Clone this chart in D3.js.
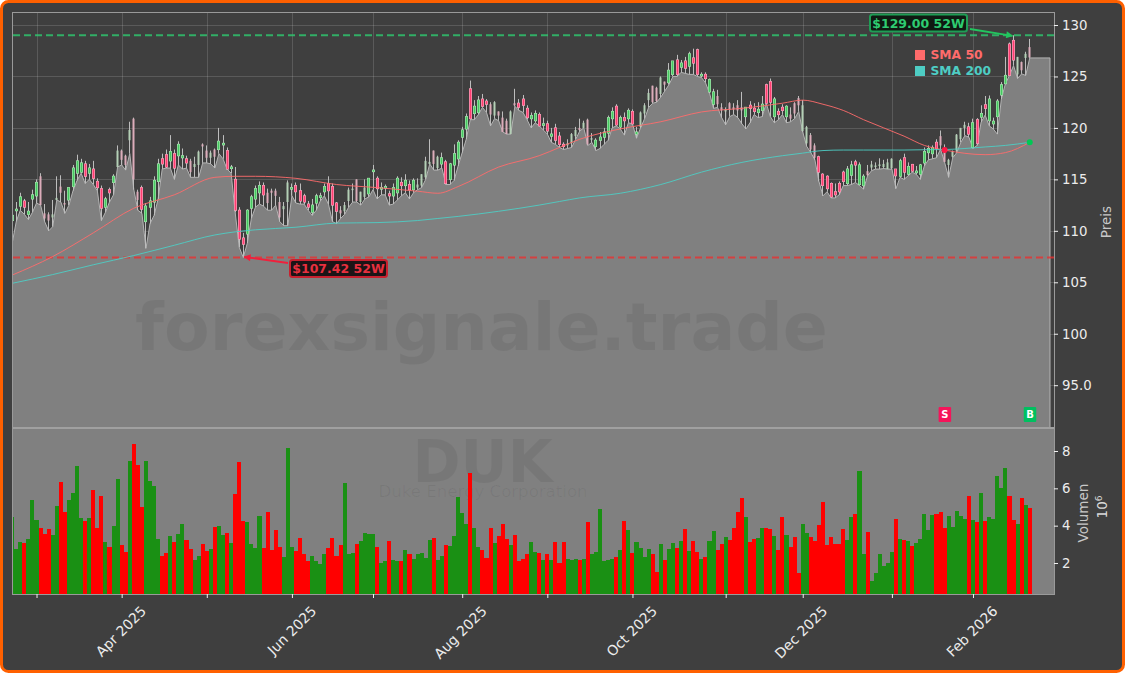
<!DOCTYPE html>
<html><head><meta charset="utf-8">
<script src="https://cdn.jsdelivr.net/npm/d3@7/dist/d3.min.js"></script>
<style>html,body{margin:0;padding:0;background:#fff;overflow:hidden}text{font-family:"DejaVu Sans",sans-serif}</style>
</head><body><svg id="c" width="1125" height="673"></svg>
<script>
const bodyTop=[111.5,112.1,113.3,112.9,111.9,113.5,114.7,115.3,111.7,111.6,111.6,113.2,114.3,112.7,114.2,116.1,116.8,116.6,116.5,116.1,116.0,114.8,114.1,113.1,114.0,115.3,117.8,117.8,117.3,119.8,120.9,113.8,114.2,112.4,112.9,114.9,116.5,117.0,117.4,117.7,117.5,118.4,117.3,117.0,116.8,116.5,117.7,118.4,117.8,117.6,117.9,118.7,118.5,117.8,116.2,115.0,112.0,109.3,112.0,113.3,114.1,114.4,114.4,113.7,113.9,113.9,
112.8,112.4,114.7,114.2,114.4,113.9,113.4,112.6,112.5,113.4,113.4,114.3,114.6,114.3,112.7,112.0,112.5,114.0,114.1,115.0,113.8,114.2,115.1,115.9,115.1,114.2,114.3,113.6,114.2,115.1,114.7,114.9,114.5,114.9,114.5,115.5,116.8,116.7,117.8,117.2,117.1,116.7,116.5,117.5,118.6,119.8,121.1,123.8,122.1,122.7,122.8,122.6,122.3,122.5,121.6,121.0,120.7,121.6,122.4,122.4,122.8,121.9,121.2,121.4,121.3,120.4,120.4,119.4,120.0,119.2,
118.4,118.5,119.4,119.8,120.0,120.5,120.8,119.0,118.8,119.1,119.6,121.0,121.6,122.1,121.0,121.0,121.7,121.6,119.6,121.5,122.2,123.4,124.1,123.9,124.9,124.5,125.6,126.5,126.6,126.3,126.5,127.2,126.8,127.6,125.2,125.2,124.7,123.5,123.1,122.0,121.8,122.4,122.0,122.2,122.0,122.0,122.2,121.9,121.8,122.3,124.2,124.5,122.8,121.6,122.0,122.1,121.3,122.4,122.9,122.2,120.1,119.3,118.3,117.2,115.5,115.3,114.6,113.8,114.6,
115.7,116.0,116.4,116.7,116.4,115.3,115.8,116.45,116.35,116.45,116.5,116.65,117.0,116.0,116.8,117.1,116.25,116.45,115.8,116.4,117.7,118.0,118.1,118.6,119.2,118.0,116.9,117.7,119.35,120.0,120.3,120.1,120.5,120.8,121.4,122.25,122.8,120.65,122.6,124.2,125.1,128.15,128.5,126.9,126.4,127.2,127.85];
const bodyBottom=[111.0,112.0,112.4,112.3,111.6,113.1,113.4,112.5,111.2,111.0,111.3,113.0,113.7,112.6,113.0,114.3,115.6,115.7,115.3,115.6,115.1,114.2,112.2,112.3,113.7,114.7,116.2,116.9,116.4,118.8,115.0,113.0,112.1,110.9,112.3,112.8,114.8,116.5,116.2,116.8,116.1,117.3,117.1,116.6,115.7,116.2,116.4,118.2,117.1,117.1,117.2,117.9,118.4,116.0,116.1,112.0,109.2,108.7,109.7,112.2,113.1,113.7,113.5,112.7,113.7,113.4,
111.3,112.1,112.8,114.1,113.8,112.9,112.8,112.3,111.8,112.7,113.3,113.8,113.9,112.5,111.9,111.7,111.9,112.9,114.0,112.9,112.8,113.3,113.6,115.8,114.1,114.1,114.2,113.4,113.4,113.7,114.4,114.4,114.0,114.0,114.2,114.4,115.2,116.5,116.5,116.1,116.5,114.6,115.0,116.4,117.0,119.1,119.9,120.9,121.4,121.5,122.1,122.3,121.3,121.2,121.2,119.6,119.4,119.4,122.2,122.0,122.2,121.0,120.9,120.7,120.2,120.3,119.7,119.2,118.8,118.4,
118.2,118.3,118.5,119.2,119.8,120.0,118.4,118.9,118.2,118.8,119.1,119.5,120.9,120.3,120.1,120.7,120.9,120.4,119.4,120.1,121.4,122.7,122.5,122.6,123.3,124.2,124.4,125.2,125.2,125.9,125.8,126.0,126.3,125.2,125.1,124.8,123.5,122.3,122.3,121.7,121.6,121.8,121.8,121.7,121.7,121.1,121.9,121.6,121.5,121.7,122.4,122.5,121.1,121.3,121.7,121.1,120.9,121.4,122.2,119.7,118.5,117.9,117.1,115.7,114.4,114.1,113.3,113.5,113.8,
114.8,114.6,115.4,116.4,114.5,114.4,115.4,116.15,116.25,116.3,116.2,116.0,116.1,115.35,115.3,115.7,115.5,115.8,115.75,115.5,116.6,117.6,117.5,118.0,118.3,116.7,116.4,117.2,117.8,118.9,120.0,119.4,118.1,118.5,121.05,121.9,120.7,120.4,121.1,123.2,124.3,125.1,126.6,125.2,125.6,126.8,126.85];
const highs=[111.7,112.8,113.7,113.1,112.8,114.0,115.0,115.6,112.6,111.8,113.0,115.3,115.4,113.9,114.2,116.4,117.4,117.0,116.8,116.5,116.8,115.1,114.4,113.3,114.2,115.5,118.3,117.9,117.4,120.6,121.0,114.0,114.4,112.7,113.3,115.3,117.0,117.5,117.9,119.3,117.9,118.7,118.0,117.3,117.0,117.2,117.8,118.5,118.3,117.8,118.0,120.0,119.3,118.1,116.4,116.2,112.3,109.8,112.1,113.5,114.4,114.8,114.7,114.1,114.1,114.1,
113.3,112.8,114.9,114.6,114.7,114.6,113.6,112.9,113.1,113.6,113.7,114.6,115.3,114.6,112.8,112.4,112.8,114.2,114.6,115.0,113.8,115.0,115.1,116.4,115.3,114.7,114.5,113.9,114.6,115.3,115.2,115.5,114.9,115.1,115.1,115.5,117.2,118.9,117.8,117.3,117.6,116.9,116.6,118.4,118.8,120.1,121.4,124.6,122.7,123.1,123.3,122.8,122.5,122.6,121.6,121.6,120.9,121.7,123.8,122.8,123.2,122.2,121.5,121.7,121.5,121.0,120.7,120.0,120.4,119.6,
118.6,118.9,119.5,120.1,120.9,120.7,120.9,119.5,119.0,119.6,120.0,121.2,122.0,122.3,121.2,121.5,121.9,121.8,120.1,121.6,122.4,123.8,124.1,124.0,125.0,124.5,126.3,126.5,127.1,126.6,126.9,127.4,127.7,127.7,125.4,125.4,124.8,123.8,123.7,122.4,122.0,122.5,122.4,122.7,123.5,122.0,122.6,122.4,122.5,123.1,124.3,124.8,123.0,121.9,122.3,122.2,122.0,122.5,123.1,122.7,120.2,119.5,118.5,117.3,115.6,115.4,114.7,114.6,114.8,
115.85,116.3,116.8,116.9,116.65,115.5,116.4,116.8,116.65,117.05,116.9,117.0,117.05,116.0,117.0,117.5,116.65,116.5,116.3,116.5,118.1,118.3,118.3,118.9,119.75,118.4,117.0,117.8,119.4,120.0,120.6,120.5,120.9,120.95,122.2,123.1,123.15,121.0,122.8,124.45,126.9,128.3,129.0,126.9,126.45,127.4,128.65];
const lows=[108.8,110.9,112.0,111.6,111.1,111.8,112.7,112.5,110.9,110.0,110.4,113.0,112.8,111.7,112.5,113.9,114.9,115.6,114.6,115.0,114.5,113.9,111.0,111.8,112.8,113.5,116.2,116.4,115.9,117.5,114.0,112.0,111.7,108.3,110.7,111.5,113.1,116.0,116.1,116.1,115.0,116.4,116.0,116.1,115.2,115.2,115.2,116.6,116.6,116.5,116.1,117.5,117.0,116.0,115.6,111.8,108.4,107.42,108.8,111.2,112.3,112.6,112.4,112.0,112.0,112.5,
110.9,110.5,110.5,113.4,112.7,112.6,112.6,112.0,111.5,112.0,112.9,113.4,112.6,110.9,110.7,111.2,111.6,112.3,112.8,112.8,112.5,113.1,113.3,114.0,113.1,113.5,113.5,112.5,112.6,113.0,113.4,113.7,113.1,113.7,114.0,114.2,115.0,116.5,115.9,115.9,116.1,114.5,114.5,114.9,116.3,117.6,118.9,120.8,120.8,121.3,122.0,121.5,120.2,120.9,120.7,119.6,119.4,119.4,122.1,121.7,121.5,120.8,120.0,120.5,120.2,119.8,119.4,118.6,118.4,118.1,
117.9,118.0,118.1,118.9,119.7,120.0,118.3,118.6,117.8,118.0,118.4,118.8,120.0,120.2,119.9,119.3,120.5,120.4,119.0,120.0,120.9,122.0,122.4,122.5,123.0,123.6,124.2,125.0,125.0,125.4,125.3,125.2,125.2,125.0,124.9,124.4,123.4,121.9,122.0,121.0,120.3,121.1,121.3,121.0,120.4,119.9,120.5,121.3,121.0,121.1,122.4,121.1,120.5,120.8,121.3,120.5,120.6,120.9,121.6,119.6,118.2,117.6,116.9,114.8,113.4,113.8,113.2,113.2,113.5,
114.4,114.4,114.5,114.7,114.4,114.05,115.35,115.85,116.0,116.0,116.05,116.0,116.0,114.1,115.2,115.0,115.35,115.7,115.5,115.0,116.3,116.9,117.0,117.1,117.95,116.65,115.2,117.1,117.6,118.6,119.25,119.1,118.0,118.3,120.55,121.25,120.2,119.9,119.4,122.8,124.3,125.1,126.05,124.8,125.25,125.1,126.8];
const direction="GGGRGGGRRRGGRRGGGGRGRRRGRGGRRGRRRGGGGRRGRGGRRGGRRGRGGRGRRRGGGGRRRRRGGGRRRRGGGGRRRRGGGRGGGGRGGRGGRGRGGGGGRGGRGGGGGRGGRRRGRRRGRRRRGGRGRGRRRGGGRGRGGGGGGRGRGRGGGGRRGRGGRGRGRRGRGGRRGRRRRGRRGGRRGRRGRRRGGRRRRRRRRRG"+"GRGGRGGGGGGRGRGRGGGGGRRRGGGGGRGRGRGGGGGRRGRG";
const volumes=[4.45,2.75,3.1,3.05,3.3,5.4,4.3,3.9,3.55,3.8,3.5,5.05,6.35,4.75,5.4,5.75,7.2,4.4,4.25,4.4,5.9,3.9,5.6,3.1,2.85,4.0,6.5,2.95,2.6,7.45,8.4,7.25,5.0,7.45,6.4,6.1,3.3,2.4,2.55,3.45,3.1,3.55,4.1,3.25,2.75,2.15,2.4,3.0,2.65,2.75,3.95,4.0,3.5,3.6,3.05,5.7,7.4,4.25,4.2,3.0,2.8,4.5,2.8,4.75,2.7,3.75,2.85,
2.3,8.15,2.85,2.65,3.35,2.5,2.1,2.4,2.1,1.95,2.5,2.8,3.35,2.4,2.95,6.3,2.5,2.55,3.0,3.2,3.6,3.55,3.55,2.85,2.0,2.1,3.2,2.15,2.1,2.1,2.7,2.5,2.2,2.5,2.55,2.25,3.25,3.35,2.15,2.4,2.95,2.9,3.45,5.55,4.7,4.1,6.8,3.9,2.85,2.7,2.25,3.9,3.05,3.45,4.1,3.3,2.95,3.5,2.1,2.2,2.5,3.1,2.6,2.55,2.15,2.5,2.15,3.1,2.0,
3.1,2.2,2.15,2.2,2.15,2.2,4.2,2.5,2.6,4.9,2.1,2.15,2.2,2.3,2.7,4.25,3.75,2.55,3.1,2.8,2.3,2.75,2.5,1.5,3.0,2.15,2.75,3.05,2.8,3.2,3.8,2.65,3.2,2.6,2.2,2.3,3.2,3.7,2.7,3.0,3.4,3.25,3.9,4.75,5.5,4.45,3.1,3.3,3.35,3.9,3.9,3.8,3.45,2.7,4.45,3.5,2.85,3.4,1.45,4.1,3.6,3.4,3.2,4.05,5.25,2.95,3.4,3.0,3.0,
3.8,3.25,4.45,4.65,6.95,2.5,3.65,1.05,1.45,2.5,1.85,2.0,2.6,4.35,3.3,3.25,3.2,2.9,3.05,3.3,4.6,3.75,4.55,4.6,4.75,3.85,4.5,3.95,4.8,4.5,4.35,5.6,4.3,4.2,5.75,4.25,4.45,4.35,6.65,6.0,7.1,5.6,4.3,4.1,5.5,5.1,4.95];
const smaBars=[0,10,20,30,40,50,55,60,70,80,90,100,105,110,120,130,135,140,150,160,170,180,190,195,200,205,210,220,225,230,240,245,251];
const sma50=[105.7,107.5,109.8,112.2,113.5,115.2,115.3,115.3,115.1,114.5,114.2,113.85,113.65,114.3,116.2,117.3,118.1,118.9,119.9,120.6,121.55,121.9,122.4,122.7,122.3,121.7,120.8,119.2,118.3,117.85,117.4,117.6,118.6];
const sma200=[104.9,105.75,106.7,107.6,108.6,109.6,109.9,110.1,110.35,110.75,110.8,111.0,111.2,111.4,111.9,112.5,112.85,113.2,113.65,114.5,115.7,116.65,117.3,117.55,117.8,117.85,117.85,117.85,117.88,117.9,118.15,118.3,118.6];
const priceTicks=[130,125,120,115,110,105,100,95];
const volumeTicks=[2,4,6,8];
const monthBars=[6,27,48,69,89,111,132,153,176,195,217,237];
const monthLabels=["","Apr 2025","","Jun 2025","","Aug 2025","","Oct 2025","","Dec 2025","","Feb 2026"];
const high52=129.00, low52=107.42, highBar=247, lowBar=57, sellBar=230, buyBar=251;

const svg=d3.select("#c");
const L=13,R=1054,T=13,M=428,B=594;
svg.append("rect").attr("x",1.5).attr("y",1.5).attr("width",1122).attr("height",670).attr("rx",7).attr("fill","#3f3f3f").attr("stroke","#ff6000").attr("stroke-width",3);
const defs=svg.append("defs");
defs.append("clipPath").attr("id","pc").append("rect").attr("x",L).attr("y",T).attr("width",R-L).attr("height",M-T);
defs.append("clipPath").attr("id","vc").append("rect").attr("x",L).attr("y",M).attr("width",R-L).attr("height",B-M);

const x=d3.scaleLinear().domain([0,251]).range([12.2,1029.75]);
const y=d3.scaleLinear().domain([130,95]).range([25,385.2]);
const yv=d3.scaleLinear().domain([2,8]).range([563,451]);
const ext=d3.scaleLinear().domain([0,1]).range([x(251),1050]);

// grid
const grid=svg.append("g").attr("stroke","#fff").attr("stroke-opacity",.14).attr("stroke-width",1);
priceTicks.forEach(p=>grid.append("line").attr("x1",L).attr("x2",R).attr("y1",Math.round(y(p))+.5).attr("y2",Math.round(y(p))+.5));
monthBars.forEach(b=>grid.append("line").attr("x1",Math.round(x(b))+.5).attr("x2",Math.round(x(b))+.5).attr("y1",T).attr("y2",M));

// price panel
const price=svg.append("g").attr("clip-path","url(#pc)");
const pts=lows.map((v,i)=>[x(i),y(v)]);
pts.push([ext(1),y(lows[251])]);
price.append("path").attr("d",d3.area().x(d=>d[0]).y0(M).y1(d=>d[1])(pts)).attr("fill","#808080");
price.append("path").attr("d",d3.line()(pts.concat([[ext(1),M]]))).attr("fill","none").attr("stroke","#b4b4b4").attr("stroke-width",1);
price.append("text").attr("x",481.5).attr("y",350).attr("text-anchor","middle").attr("font-size",66.5).attr("font-weight","bold").attr("fill","#000").attr("fill-opacity",.065).text("forexsignale.trade");

// 52 week lines
price.append("line").attr("x1",L).attr("x2",R).attr("y1",y(high52)).attr("y2",y(high52)).attr("stroke","#2ecc71").attr("stroke-opacity",.8).attr("stroke-width",2).attr("stroke-dasharray","7,4");
price.append("line").attr("x1",L).attr("x2",R).attr("y1",y(low52)).attr("y2",y(low52)).attr("stroke","#e83030").attr("stroke-opacity",.8).attr("stroke-width",2).attr("stroke-dasharray","7,4");

// candles
const candles=price.append("g");
highs.forEach((h,i)=>{
  const cx=x(i), up=direction[i]==="G", fr=cx-Math.floor(cx), pale=fr>.56&&fr<.92;
  const sx=Math.floor(cx)+.5;
  candles.append("line").attr("x1",sx).attr("x2",sx).attr("y1",y(h)).attr("y2",y(lows[i])).attr("stroke","#bdbdbd").attr("stroke-width",1);
  const t=y(bodyTop[i]), hgt=Math.max(1.5,y(bodyBottom[i])-t);
  if(pale){
    candles.append("rect").attr("x",sx-1).attr("y",t).attr("width",2).attr("height",hgt).attr("fill",up?"#b4d0b6":"#dcacba");
  }else{
    candles.append("rect").attr("x",sx-1.5).attr("y",t-.5).attr("width",3).attr("height",hgt+1).attr("fill",up?"#b4e6ba":"#f4b4c6");
    candles.append("rect").attr("x",sx-.9).attr("y",t).attr("width",1.8).attr("height",hgt).attr("fill",up?"#45c860":"#ff3d70");
  }
});

// SMAs
const smaLine=vals=>d3.line().x((d,i)=>x(smaBars[i])).y(d=>y(d)).curve(d3.curveMonotoneX)(vals);
price.append("path").attr("d",smaLine(sma50)).attr("fill","none").attr("stroke","#ff6b6b").attr("stroke-opacity",.9).attr("stroke-width",1);
price.append("path").attr("d",smaLine(sma200)).attr("fill","none").attr("stroke","#4ecdc4").attr("stroke-opacity",.9).attr("stroke-width",1);
price.append("circle").attr("cx",x(sellBar)).attr("cy",y(117.85)).attr("r",3).attr("fill","#ff1744");
price.append("circle").attr("cx",x(buyBar)).attr("cy",y(118.6)).attr("r",3).attr("fill","#00c853");

// legend
[["SMA 50","#ff6b6b",59],["SMA 200","#4ecdc4",75]].forEach(l=>{
  svg.append("rect").attr("x",915).attr("y",l[2]-9).attr("width",10).attr("height",10).attr("fill",l[1]);
  svg.append("text").attr("x",930.5).attr("y",l[2]).attr("font-size",12.3).attr("font-weight","bold").attr("fill",l[1]).text(l[0]);
});

// annotations
svg.append("defs").call(d=>{
  [["hg","#22c55e"],["hr","#f0203c"]].forEach(a=>d.append("marker").attr("id",a[0]).attr("viewBox","0 0 10 10").attr("refX",9).attr("refY",5).attr("markerWidth",9).attr("markerHeight",7).attr("orient","auto").attr("markerUnits","userSpaceOnUse").append("path").attr("d","M0,0L10,5L0,10Z").attr("fill",a[1]));
});
svg.append("line").attr("x1",970).attr("y1",29).attr("x2",x(highBar)-1).attr("y2",y(high52)+.5).attr("stroke","#22c55e").attr("stroke-width",1.8).attr("marker-end","url(#hg)");
svg.append("line").attr("x1",288).attr("y1",263).attr("x2",x(lowBar)+1).attr("y2",y(low52)-.5).attr("stroke","#f0203c").attr("stroke-width",1.8).attr("marker-end","url(#hr)");
function tag(x0,y0,w,h,txt,bord,col,bg){
  svg.append("rect").attr("x",x0).attr("y",y0).attr("width",w).attr("height",h).attr("rx",2.5).attr("fill",bg).attr("stroke",bord).attr("stroke-width",2);
  svg.append("text").attr("x",x0+w/2).attr("y",y0+h/2+4.5).attr("text-anchor","middle").attr("font-size",12.5).attr("font-weight","bold").attr("fill",col).text(txt);
}
tag(870,14.5,97,17,"$"+high52.toFixed(2)+" 52W","#1f9d55","#2ecc71","#0f1a12");
tag(290,260,97,17,"$"+low52.toFixed(2)+" 52W","#c8202f","#e8303f","#1c1416");

// signals
function sig(xc,col,t){
  svg.append("rect").attr("x",xc-6).attr("y",407).attr("width",12.5).attr("height",15).attr("rx",1).attr("fill",col);
  svg.append("text").attr("x",xc+.2).attr("y",418.3).attr("text-anchor","middle").attr("font-size",10).attr("font-weight","bold").attr("fill","#fff").text(t);
}
sig(x(sellBar),"#f5145a","S");
sig(x(buyBar),"#00c060","B");

// volume panel
svg.append("rect").attr("x",L).attr("y",M).attr("width",R-L).attr("height",B-M).attr("fill","#808080");
const vol=svg.append("g").attr("clip-path","url(#vc)");
vol.append("text").attr("x",482.5).attr("y",482).attr("text-anchor","middle").attr("font-size",58).attr("font-weight","bold").attr("fill","#000").attr("fill-opacity",.065).text("DUK");
vol.append("text").attr("x",483).attr("y",496.5).attr("text-anchor","middle").attr("font-size",16.6).attr("fill","#000").attr("fill-opacity",.06).text("Duke Energy Corporation");
vol.selectAll("rect.b").data(volumes).enter().append("rect").attr("class","b")
  .attr("x",(d,i)=>x(i)-2.03).attr("width",4.06).attr("y",d=>yv(d)).attr("height",d=>B-yv(d))
  .attr("shape-rendering","crispEdges")
  .attr("fill",(d,i)=>direction[i]==="G"?"#1a9014":"#ff0000");

// frames
svg.append("rect").attr("x",L-.5).attr("y",T-.5).attr("width",R-L+1).attr("height",B-T+1).attr("fill","none").attr("stroke","#9a9a9a").attr("stroke-width",1);
svg.append("line").attr("x1",L).attr("x2",R).attr("y1",M).attr("y2",M).attr("stroke","#a0a0a0").attr("stroke-width",2);

// axes
function style(g,size){
  g.select(".domain").remove();
  g.selectAll(".tick line").attr("stroke","#f0f0f0");
  g.selectAll(".tick text").attr("fill","#ececec").attr("font-size",size).attr("font-family","DejaVu Sans");
}
svg.append("g").attr("transform",`translate(${R},0)`).call(d3.axisRight(y).tickValues(priceTicks).tickSize(4).tickPadding(4).tickFormat(d=>d===95?"95.0":String(d))).call(style,13.3);
svg.append("g").attr("transform",`translate(${R},0)`).call(d3.axisRight(yv).tickValues(volumeTicks).tickSize(4).tickPadding(4).tickFormat(d3.format("d"))).call(style,13.3);
const xa=svg.append("g").attr("transform",`translate(0,${B})`).call(d3.axisBottom(x).tickValues(monthBars).tickSize(4).tickFormat((d,i)=>monthLabels[i])).call(style,14);
xa.selectAll(".tick text").attr("text-anchor","end").attr("dy",0).attr("y",0).attr("x",0)
  .attr("transform","translate(25,18) rotate(-45)");

// axis titles
svg.append("text").attr("transform","translate(1111,222) rotate(-90)").attr("text-anchor","middle").attr("font-size",13.5).attr("fill","#c8c8c8").text("Preis");
svg.append("text").attr("transform","translate(1088,513) rotate(-90)").attr("text-anchor","middle").attr("font-size",13.5).attr("fill","#c8c8c8").text("Volumen");
const e=svg.append("text").attr("transform","translate(1107,507) rotate(-90)").attr("text-anchor","middle").attr("font-size",13.5).attr("fill","#d8d8d8");
e.append("tspan").text("10");
e.append("tspan").attr("font-size",9).attr("dy",-5).text("6");
</script></body></html>
